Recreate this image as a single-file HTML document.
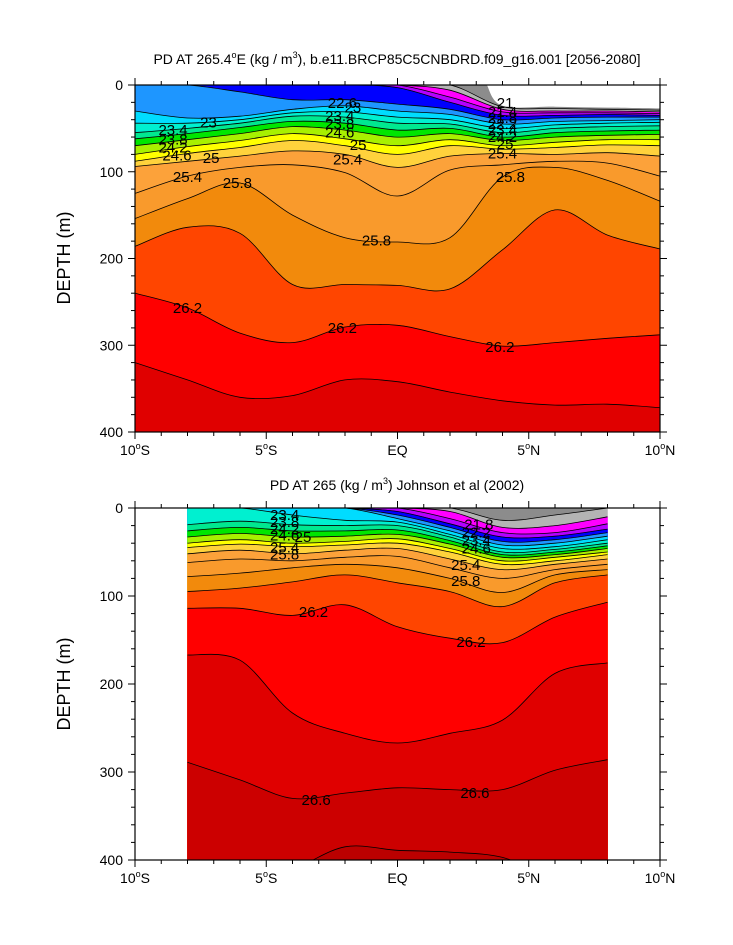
<!DOCTYPE html>
<html><head><meta charset="utf-8"><style>
body{margin:0;background:#fff;width:733px;height:945px;overflow:hidden}
svg{display:block}
text{font-family:"Liberation Sans",sans-serif}
</style></head><body>
<svg id="chart" width="733" height="945" viewBox="0 0 733 945" xmlns="http://www.w3.org/2000/svg">
<defs>
<clipPath id="clipTop"><rect x="135" y="85" width="525" height="347"/></clipPath>
<clipPath id="clipBot"><rect x="135" y="508" width="525" height="352"/></clipPath>
</defs>
<text x="397" y="64" font-size="14" text-anchor="middle">PD AT 265.4<tspan font-size="9" dy="-6">o</tspan><tspan dy="6">E (kg / m</tspan><tspan font-size="9" dy="-6">3</tspan><tspan dy="6">), b.e11.BRCP85C5CNBDRD.f09_g16.001 [2056-2080]</tspan></text>
<text x="397" y="490" font-size="14" text-anchor="middle">PD AT 265 (kg / m<tspan font-size="9" dy="-6">3</tspan><tspan dy="6">) Johnson et al (2002)</tspan></text>
<text x="70" y="258" font-size="18" text-anchor="middle" transform="rotate(-90 70 258)">DEPTH (m)</text>
<text x="70" y="684" font-size="18" text-anchor="middle" transform="rotate(-90 70 684)">DEPTH (m)</text>
<g id="topPlot"></g>
<g id="botPlot"></g>
</svg>
<script>
const levels = [21.0,21.4,21.8,22.2,22.6,23.0,23.4,23.8,24.2,24.6,25.0,25.2,25.4,25.6,25.8,26.0,26.2,26.4,26.6,26.8];
const bandColors = ["#b4b4b4","#ff00ff","#b400ff","#0000ff","#1e96ff","#00dcff","#00f0d0","#00e890","#00e600","#a8f000","#ffff00","#ffd23c","#fca23a","#f99a2c","#f28a0c","#ff4500","#ff0000","#e00000","#cc0000","#bb0000"];
const surfaceColor = "#8c8c8c";

const topLon = [-10,-8,-6,-4,-2,0,2,4,6,8,10];
const topDepth = [
 [0,0,0,0,0,0,0,25,27,28,29],
 [0,0,0,0,0,0,6,28,30,30,31],
 [0,0,0,0,0,0,14,31,32,32,33],
 [0,0,0,0,0,3,20,35,35,34,35],
 [0,0,8,17,17,22,28,40,38,37,37],
 [30,38,36,28,24,30,34,45,42,41,40],
 [44,44,40,32,31,37,40,50,46,44,43],
 [55,50,44,36,37,44,45,55,50,48,47],
 [62,56,49,42,44,52,50,60,55,53,52],
 [70,63,56,48,52,60,56,64,60,58,57],
 [80,71,64,56,62,70,63,70,66,63,63],
 [88,79,72,64,70,80,70,74,72,69,70],
 [94,88,82,76,80,95,82,79,80,78,82],
 [125,105,95,92,101,128,98,92,88,90,105],
 [154,131,113,150,176,181,176,106,95,110,134],
 [186,164,171,230,230,231,235,190,144,173,189],
 [240,257,286,297,279,277,290,301,297,292,288],
 [320,340,360,358,340,342,354,364,369,368,372]
];
const topMissingLon = [3.4,4,6,8,10];
const topMissingDepth = [0,24,25,26,27];
const topLabelLon = [-2.1,-1.7,-7.2,-8.55,-8.55,-8.55,-8.4,-7.1,-8.0,-6.1,-1.9,-1.5,-2.2,-2.2,-2.2,-0.8,4.3,4.0,-8.0,-2.1,3.9,4.1,4.0,4.0,4.0,4.0,4.0,4.1];
const topLabelDepth = [21,26,43,52,63,72,81,84,106,113,86,69,55,36,45,179,106,79,257,280,302,21,31,38,45,52,60,68];
const topLabelText = ["22.6","23","23","23.4","23.8","24.2","24.6","25","25.4","25.8","25.4","25","24.6","23.4","23.8","25.8","25.8","25.4","26.2","26.2","26.2","21","21.4","21.8","22.2","23.4","24.2","25"];

const botLon = [-8,-6,-4,-2,0,2,4,6,8];
const botDepth = [
 [0,0,0,0,0,0,14,8,0],
 [0,0,0,0,0,4,22,20,10],
 [0,0,0,0,0,12,28,28,18],
 [0,0,0,0,4,18,33,32,24],
 [0,0,0,0,8,22,38,36,28],
 [0,0,0,0,12,26,42,40,32],
 [0,0,8,14,16,30,46,44,36],
 [19,15,19,20,20,33,50,47,40],
 [26,22,26,26,25,37,53,50,43],
 [33,29,33,32,30,41,56,53,46],
 [40,36,40,38,35,46,60,56,50],
 [45,41,44,42,40,50,64,60,53],
 [52,48,52,48,46,58,70,64,58],
 [62,58,60,56,55,68,80,70,64],
 [78,74,68,64,68,80,96,76,70],
 [95,91,84,76,85,95,112,85,76],
 [114,114,122,110,135,148,153,124,107],
 [167,173,233,256,267,256,241,188,176],
 [289,309,330,324,318,320,320,298,286],
 [420,420,410,385,389,391,397,420,420]
];
const botLabelLon = [-4.3,-4.3,-4.3,-4.3,-3.6,-4.3,-4.3,-3.2,2.8,-3.1,2.95,2.6,2.6,3.1,3.0,3.0,3.0];
const botLabelDepth = [8,16,24,31,33,45,53,118,152,332,324,83,65,19,28,37,46];
const botLabelText = ["23.4","23.8","24.2","24.6","25","25.4","25.8","26.2","26.2","26.6","26.6","25.8","25.4","21.8","22.2","23.4","24.6"];

const xTickVals = [-10,-5,0,5,10];
const xTickLabels = ["10°S","5°S","EQ","5°N","10°N"];
const yTickVals = [0,100,200,300,400];

const NS = "http://www.w3.org/2000/svg";
function mk(tag, attrs, parent){const e=document.createElementNS(NS,tag);for(const k in attrs)e.setAttribute(k,attrs[k]);parent.appendChild(e);return e;}

function smoothPath(pts){
  let d="M"+pts[0][0].toFixed(1)+","+pts[0][1].toFixed(1);
  for(let i=0;i<pts.length-1;i++){
    const p0=pts[Math.max(0,i-1)],p1=pts[i],p2=pts[i+1],p3=pts[Math.min(pts.length-1,i+2)];
    const c1=[p1[0]+(p2[0]-p0[0])/6,p1[1]+(p2[1]-p0[1])/6];
    const c2=[p2[0]-(p3[0]-p1[0])/6,p2[1]-(p3[1]-p1[1])/6];
    d+="C"+c1[0].toFixed(1)+","+c1[1].toFixed(1)+" "+c2[0].toFixed(1)+","+c2[1].toFixed(1)+" "+p2[0].toFixed(1)+","+p2[1].toFixed(1);
  }
  return d;
}

function drawPanel(g, box, lon, depth, labLon, labDepth, labText, clipId, missLon, missDepth){
  const xs = v => box.x0 + (v + 10) / 20 * (box.x1 - box.x0);
  const ys = v => box.y0 + v / 400 * (box.y1 - box.y0);
  const fills = mk("g",{"clip-path":"url(#"+clipId+")"},g);
  
  
  const xa = xs(lon[0]), xb = xs(lon[lon.length-1]);
  const base = mk("rect",{x:xa,y:box.y0,width:xb-xa,height:box.y1-box.y0,fill:surfaceColor},fills);
  
  
  const lines=[];
  for(let k=0;k<depth.length;k++){
    const pts = lon.map((L,i)=>[xs(L), ys(depth[k][i])]);
    const p = smoothPath(pts);
    lines.push(p);
    const poly = mk("path",{d:p+"L"+xb+","+(box.y1+60)+"L"+xa+","+(box.y1+60)+"Z",fill:bandColors[k],stroke:bandColors[k],"stroke-width":0.5},fills);
    
    
  }
  if(missLon){
    const pts=missLon.map((L,i)=>[xs(L),ys(missDepth[i])]);
    const d = smoothPath(pts)+"L"+box.x1+","+(box.y0-2)+"L"+xs(missLon[0])+","+(box.y0-2)+"Z";
    const m = mk("path",{d:d,fill:"#fff"},fills);
    
    
  }
  for(let k=0;k<lines.length;k++){
    const ln = mk("path",{d:lines[k],fill:"none",stroke:"#000","stroke-width":0.8},fills);
    
    
  }
  for(let i=0;i<labText.length;i++){
    const t = mk("text",{x:xs(labLon[i]),y:ys(labDepth[i])+5,"font-size":15,"text-anchor":"middle",fill:"#000"},fills);
    t.textContent = labText[i];
    
    
  }
  const fr = mk("rect",{x:box.x0,y:box.y0,width:box.x1-box.x0,height:box.y1-box.y0,fill:"none",stroke:"#000","stroke-width":1.2},g);
  
  
  for(let v=-10; v<=10; v++){
    const major = v%5===0, len = major?7:4, x=xs(v);
    mk("line",{x1:x,y1:box.y1,x2:x,y2:box.y1+len,stroke:"#000","stroke-width":1},g);
    mk("line",{x1:x,y1:box.y0,x2:x,y2:box.y0-len,stroke:"#000","stroke-width":1},g);
  }
  for(let i=0;i<xTickVals.length;i++){
    const t = mk("text",{x:xs(xTickVals[i]),y:box.y1+23,"font-size":14,"text-anchor":"middle"},g);
    t.innerHTML = xTickLabels[i].replace("°",'<tspan font-size="9" dy="-6">o</tspan><tspan dy="6">')+(xTickLabels[i].includes("°")?"</tspan>":"");
    
    
  }
  for(let v=0; v<=400; v+=20){
    const major = v%100===0, len = major?7:4, y=ys(v);
    mk("line",{x1:box.x0,y1:y,x2:box.x0-len,y2:y,stroke:"#000","stroke-width":1},g);
    mk("line",{x1:box.x1,y1:y,x2:box.x1+len,y2:y,stroke:"#000","stroke-width":1},g);
  }
  for(const v of yTickVals){
    const t = mk("text",{x:box.x0-12,y:ys(v)+5,"font-size":14,"text-anchor":"end"},g);
    t.textContent = v;
    
    
  }
}

drawPanel(document.getElementById("topPlot"),{x0:135,x1:660,y0:85,y1:432},topLon,topDepth,topLabelLon,topLabelDepth,topLabelText,"clipTop",topMissingLon,topMissingDepth);
drawPanel(document.getElementById("botPlot"),{x0:135,x1:660,y0:508,y1:860},botLon,botDepth,botLabelLon,botLabelDepth,botLabelText,"clipBot",null,null);
</script>
</body></html>
